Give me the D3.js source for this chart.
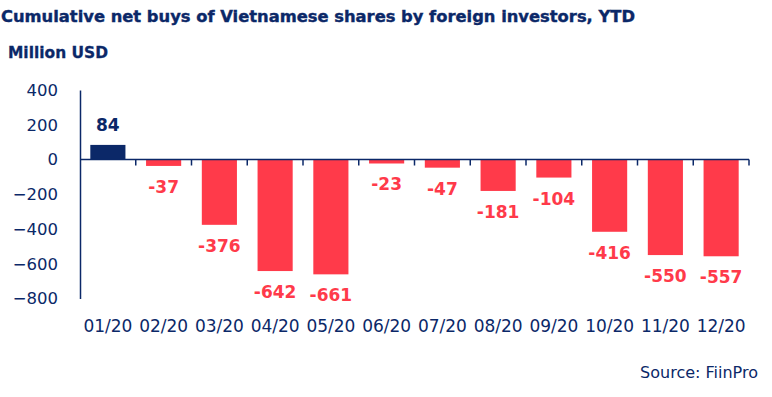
<!DOCTYPE html>
<html lang="en">
<head>
<meta charset="UTF-8">
<title>Cumulative net buys</title>
<script src="https://cdnjs.cloudflare.com/ajax/libs/d3/7.8.5/d3.min.js"></script>
<style>
  body { margin: 0; background: #fff; }
  svg { display: block; font-family: "DejaVu Sans", sans-serif; }
</style>
</head>
<body>
<svg id="chart" width="772" height="397"></svg>
<script>
const months = ["01/20", "02/20", "03/20", "04/20", "05/20", "06/20", "07/20", "08/20", "09/20", "10/20", "11/20", "12/20"];
const netBuys = [84, -37, -376, -642, -661, -23, -47, -181, -104, -416, -550, -557];
const yTicks = [400, 200, 0, -200, -400, -600, -800];

const navy = "#0b2868";
const red = "#ff3a4a";

const svg = d3.select("#chart");

const x = d3.scaleBand().domain(months).range([80, 749]).paddingInner(0.37).paddingOuter(0.185);
const y = d3.scaleLinear().domain([-800, 400]).range([298.5, 90]);

// titles
svg.append("text")
  .attr("x", 1).attr("y", 22)
  .attr("font-size", 16.5).attr("font-weight", "bold")
  .attr("fill", navy).attr("stroke", navy).attr("stroke-width", 0.4)
  .attr("textLength", 634).attr("lengthAdjust", "spacingAndGlyphs")
  .text("Cumulative net buys of Vietnamese shares by foreign investors, YTD");

svg.append("text")
  .attr("x", 8).attr("y", 58)
  .attr("font-size", 15.5).attr("font-weight", "bold")
  .attr("fill", navy).attr("stroke", navy).attr("stroke-width", 0.3)
  .attr("textLength", 100).attr("lengthAdjust", "spacingAndGlyphs")
  .text("Million USD");

// y axis
const yAxis = d3.axisLeft(y).tickValues(yTicks).tickSize(0).tickPadding(22)
  .tickFormat(d => d < 0 ? "\u2212" + Math.abs(d) : d);
const gy = svg.append("g").attr("transform", "translate(80,0)").call(yAxis);
gy.select(".domain").attr("stroke", navy).attr("stroke-width", 1.5);
gy.selectAll("text").attr("font-size", 16.5).attr("fill", navy).attr("font-family", "DejaVu Sans, sans-serif");

// bars
svg.append("g").selectAll("rect")
  .data(netBuys)
  .enter().append("rect")
  .attr("x", (d, i) => x(months[i]))
  .attr("width", x.bandwidth())
  .attr("y", d => y(Math.max(0, d)))
  .attr("height", d => Math.abs(y(d) - y(0)))
  .attr("fill", d => d >= 0 ? navy : red);

// x axis at zero with ticks at band edges
const zeroY = y(0);
svg.append("line")
  .attr("x1", 80).attr("x2", 749)
  .attr("y1", zeroY).attr("y2", zeroY)
  .attr("stroke", navy).attr("stroke-width", 1.5);

const edges = months.map(m => x(m) - x.step() * x.paddingInner() / 2 + x.step());
svg.append("g").selectAll("line")
  .data(edges)
  .enter().append("line")
  .attr("x1", d => d).attr("x2", d => d)
  .attr("y1", zeroY).attr("y2", zeroY + 6)
  .attr("stroke", navy).attr("stroke-width", 1.5);

// month labels
svg.append("g").selectAll("text")
  .data(months)
  .enter().append("text")
  .attr("x", d => x(d) + x.bandwidth() / 2)
  .attr("y", 332)
  .attr("text-anchor", "middle")
  .attr("font-size", 17)
  .attr("fill", navy)
  .text(d => d);

// value labels
svg.append("g").selectAll("text")
  .data(netBuys)
  .enter().append("text")
  .attr("x", (d, i) => x(months[i]) + x.bandwidth() / 2)
  .attr("y", d => d >= 0 ? y(d) - 14 : y(d) + 27)
  .attr("text-anchor", "middle")
  .attr("font-size", 17)
  .attr("font-weight", "bold")
  .attr("fill", d => d >= 0 ? navy : red)
  .text(d => d < 0 ? "-" + Math.abs(d) : d);

// source
svg.append("text")
  .attr("x", 758).attr("y", 378)
  .attr("text-anchor", "end")
  .attr("font-size", 16)
  .attr("fill", navy)
  .text("Source: FiinPro");
</script>
</body>
</html>
